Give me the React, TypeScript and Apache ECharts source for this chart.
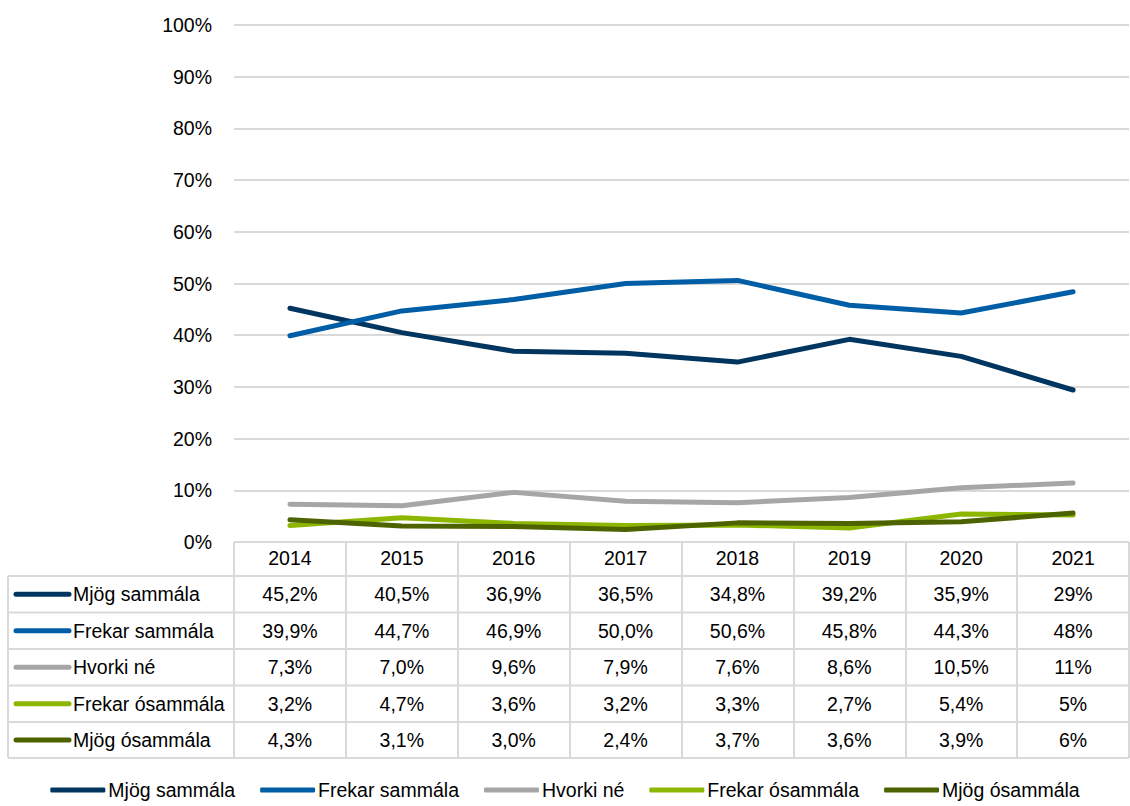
import React, { useEffect, useRef } from "react";
import * as echarts from "echarts";

const years = ["2014", "2015", "2016", "2017", "2018", "2019", "2020", "2021"];
const seriesNames = ["Mjög sammála", "Frekar sammála", "Hvorki né", "Frekar ósammála", "Mjög ósammála"];
const seriesColors = ["#00355F", "#005EA6", "#A6A6A6", "#8DB600", "#4C6300"];

const mjogSammala = [45.2, 40.5, 36.9, 36.5, 34.8, 39.2, 35.9, 29.4];
const frekarSammala = [39.9, 44.7, 46.9, 50.0, 50.6, 45.8, 44.3, 48.4];
const hvorkiNe = [7.3, 7.0, 9.6, 7.9, 7.6, 8.6, 10.5, 11.4];
const frekarOsammala = [3.2, 4.7, 3.6, 3.2, 3.3, 2.7, 5.4, 5.2];
const mjogOsammala = [4.3, 3.1, 3.0, 2.4, 3.7, 3.6, 3.9, 5.6];
const tableDecimals = [1, 1, 1, 1, 1, 1, 1, 0];

const allSeries = [mjogSammala, frekarSammala, hvorkiNe, frekarOsammala, mjogOsammala];

const FONT = "'Liberation Sans', Arial, sans-serif";
const FS = 19.5;
const GRID_LEFT = 234;
const GRID_RIGHT = 1129;
const GRID_TOP = 25;
const GRID_BOTTOM = 542;
const TABLE_LEFT = 8;
const ROW_LINES = [576, 612.5, 649, 685.5, 722, 758];
const BORDER = "#D9D9D9";

const fmt = (v: number, d: number) => v.toFixed(d).replace(".", ",") + "%";

export default function App() {
  const ref = useRef<HTMLDivElement>(null);

  useEffect(() => {
    if (!ref.current) return;
    const chart = echarts.init(ref.current, undefined, { renderer: "svg" });

    const rowCenters = ROW_LINES.slice(0, -1).map((y, i) => (y + ROW_LINES[i + 1]) / 2);

    const tableAxes = allSeries.map((vals, r) => ({
      type: "category" as const,
      gridIndex: 0,
      position: "bottom" as const,
      data: vals.map((v, i) => fmt(v, tableDecimals[i])),
      axisLine: { show: false },
      axisTick: { show: false },
      splitLine: { show: false },
      axisLabel: {
        interval: 0,
        margin: rowCenters[r] - GRID_BOTTOM,
        verticalAlign: "middle" as const,
        fontSize: FS,
        color: "#000",
        fontFamily: FONT,
      },
    }));

    const graphics: any[] = [];
    ROW_LINES.forEach((y) => {
      graphics.push({
        type: "line",
        shape: { x1: TABLE_LEFT, y1: y, x2: GRID_RIGHT, y2: y },
        style: { stroke: BORDER, lineWidth: 2 },
        silent: true,
      });
    });
    graphics.push({
      type: "line",
      shape: { x1: TABLE_LEFT, y1: ROW_LINES[0], x2: TABLE_LEFT, y2: ROW_LINES[ROW_LINES.length - 1] },
      style: { stroke: BORDER, lineWidth: 2 },
      silent: true,
    });
    seriesNames.forEach((name, r) => {
      graphics.push({
        type: "line",
        shape: { x1: 16, y1: rowCenters[r], x2: 69, y2: rowCenters[r] },
        style: { stroke: seriesColors[r], lineWidth: 5, lineCap: "round" },
        silent: true,
      });
      graphics.push({
        type: "text",
        x: 73,
        y: rowCenters[r],
        style: {
          text: name,
          fontSize: FS,
          fontFamily: FONT,
          fill: "#000",
          verticalAlign: "middle",
          align: "left",
        },
        silent: true,
      });
    });

    chart.setOption({
      animation: false,
      backgroundColor: "#fff",
      grid: {
        left: GRID_LEFT,
        right: 1130 - GRID_RIGHT,
        top: GRID_TOP,
        bottom: 806 - GRID_BOTTOM,
        containLabel: false,
      },
      xAxis: [
        {
          type: "category",
          data: years,
          boundaryGap: true,
          axisLine: { show: false },
          axisTick: { show: true, length: ROW_LINES[ROW_LINES.length - 1] - GRID_BOTTOM, lineStyle: { color: BORDER, width: 2 } },
          axisLabel: {
            interval: 0,
            margin: 16,
            verticalAlign: "middle",
            fontSize: FS,
            color: "#000",
            fontFamily: FONT,
          },
        },
        ...tableAxes,
      ],
      yAxis: {
        type: "value",
        min: 0,
        max: 100,
        interval: 10,
        axisLine: { show: false },
        axisTick: { show: false },
        splitLine: { lineStyle: { color: BORDER, width: 2 } },
        axisLabel: {
          formatter: "{value}%",
          margin: 22,
          fontSize: FS,
          color: "#000",
          fontFamily: FONT,
        },
      },
      legend: {
        left: "center",
        top: 780,
        padding: 0,
        itemWidth: 55,
        itemHeight: 5,
        itemGap: 25,
        icon: "roundRect",
        textStyle: { fontSize: FS, color: "#000", fontFamily: FONT, padding: [0, 0, 0, -2] },
        data: seriesNames,
      },
      series: allSeries.map((vals, i) => ({
        name: seriesNames[i],
        type: "line",
        xAxisIndex: 0,
        data: vals,
        symbol: "none",
        color: seriesColors[i],
        lineStyle: { width: 5, color: seriesColors[i], cap: "round", join: "round" },
      })),
      graphic: graphics,
    });

    return () => chart.dispose();
  }, []);

  return (
    <div
      ref={ref}
      style={{ position: "fixed", left: 0, top: 0, width: 1130, height: 806, background: "#fff" }}
    />
  );
}
